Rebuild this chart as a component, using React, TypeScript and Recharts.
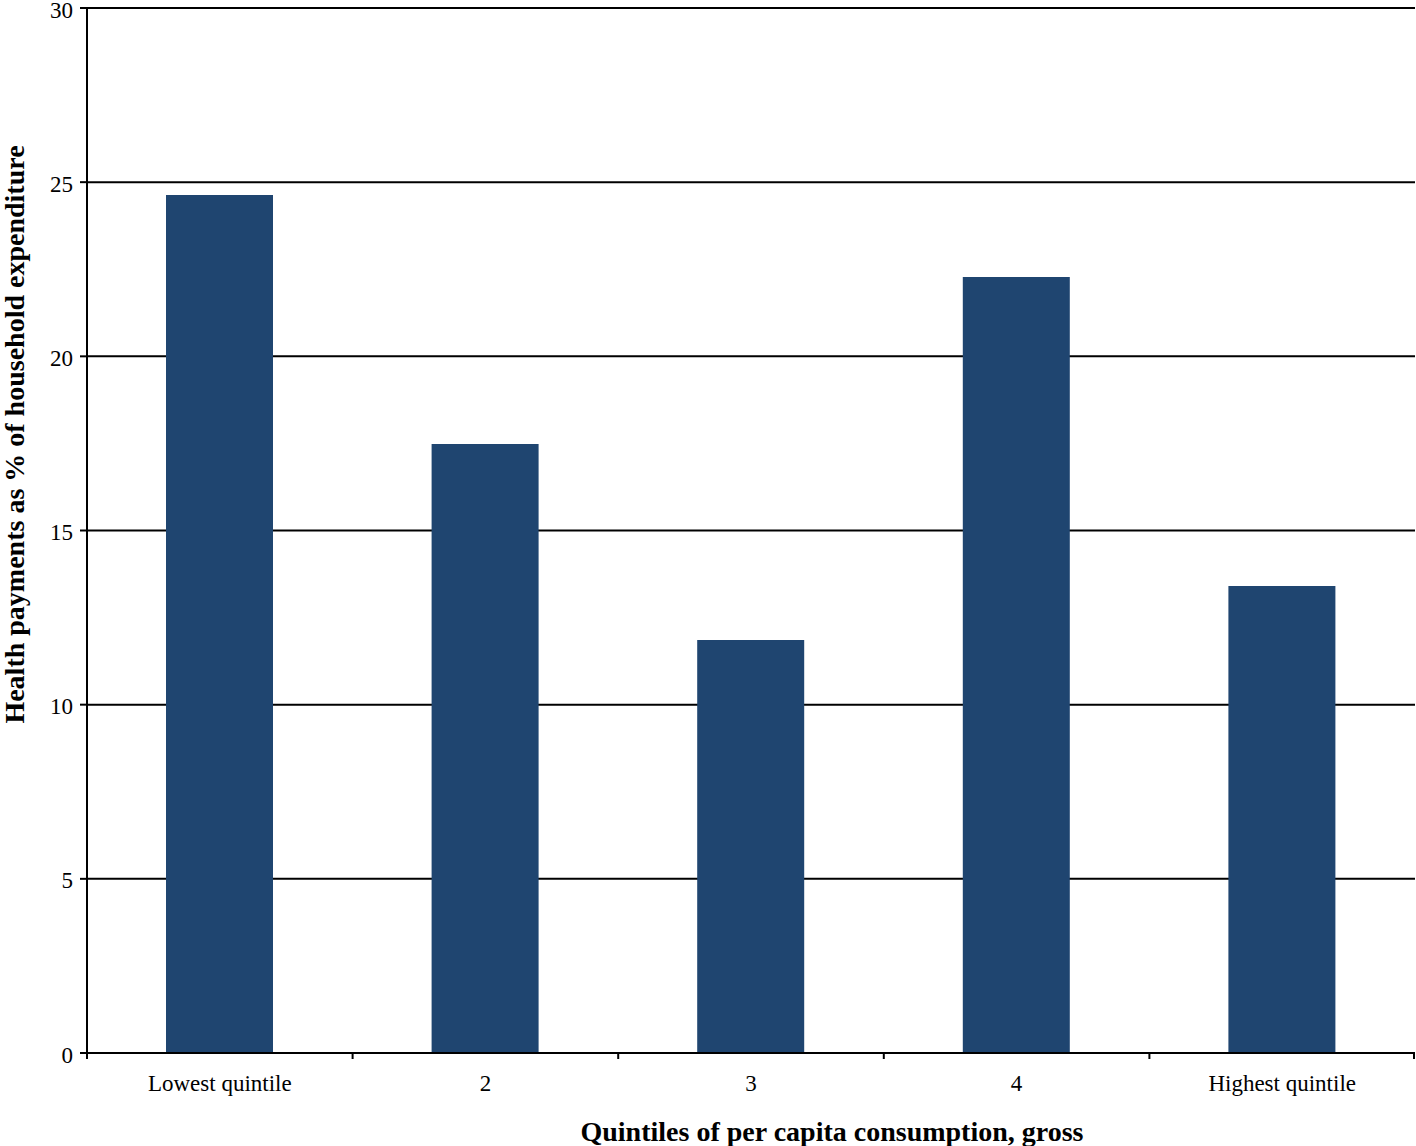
import React from 'react';
import { BarChart, Bar, XAxis, YAxis, CartesianGrid, Label } from 'recharts';

const quintiles = ['Lowest quintile', '2', '3', '4', 'Highest quintile'];
const healthShare = [24.63, 17.48, 11.86, 22.28, 13.41];
const yTicks = [0, 5, 10, 15, 20, 25, 30];

const data = quintiles.map((q, i) => ({ name: q, value: healthShare[i] }));

const W = 1416;
const H = 1146;
const margin = { top: 8, right: 1, bottom: 0, left: 0 };
const yAxisWidth = 87;
const xAxisHeight = 93;
const plotWidth = W - margin.left - margin.right - yAxisWidth;
const band = plotWidth / quintiles.length;

const font = '"Liberation Serif", "Times New Roman", serif';

// category label in the middle, tick marks on the band edges
const QuintileTick = (props: any) => {
    const { x, y, payload, index } = props;
    const left = x - band / 2;
    const right = x + band / 2;
    return (
        <g>
            <line x1={left} y1={y} x2={left} y2={y + 6} stroke="#000" strokeWidth={2} />
            {index === quintiles.length - 1 && (
                <line x1={right - 1} y1={y} x2={right - 1} y2={y + 6} stroke="#000" strokeWidth={2} />
            )}
            <text x={x} y={y + 30} textAnchor="middle" dominantBaseline="central" fontSize={23} fontFamily={font} fill="#000">
                {payload.value}
            </text>
        </g>
    );
};

const ValueTick = (props: any) => {
    const { x, y, payload } = props;
    return (
        <text x={x} y={y + 2} textAnchor="end" dominantBaseline="central" fontSize={23} fontFamily={font} fill="#000">
            {payload.value}
        </text>
    );
};

const YTitle = (props: any) => {
    const { viewBox } = props;
    const cx = 14;
    const cy = viewBox.y + viewBox.height / 2 - 96;
    return (
        <text x={cx} y={cy} transform={`rotate(-90, ${cx}, ${cy})`} textAnchor="middle" dominantBaseline="central"
            fontSize={28} fontWeight="bold" fontFamily={font} fill="#000">
            Health payments as % of household expenditure
        </text>
    );
};

const XTitle = (props: any) => {
    const { viewBox } = props;
    const cx = viewBox.x + viewBox.width / 2 + 81;
    return (
        <text x={cx} y={1131} textAnchor="middle" dominantBaseline="central"
            fontSize={28} fontWeight="bold" fontFamily={font} fill="#000">
            Quintiles of per capita consumption, gross
        </text>
    );
};

const App = () => {
    return (
        <div style={{ position: 'absolute', left: 0, top: 0, width: W, height: H, background: '#fff' }}>
            <BarChart width={W} height={H} data={data} margin={margin} barSize={107}>
                <CartesianGrid horizontal vertical={false} stroke="#000" strokeWidth={2} />
                <XAxis
                    dataKey="name"
                    axisLine={{ stroke: '#000', strokeWidth: 2 }}
                    tickLine={false}
                    tickSize={0}
                    tickMargin={0}
                    tick={<QuintileTick />}
                    interval={0}
                    height={xAxisHeight}
                >
                    <Label content={<XTitle />} />
                </XAxis>
                <YAxis
                    width={yAxisWidth}
                    domain={[0, 30]}
                    ticks={yTicks}
                    interval={0}
                    axisLine={{ stroke: '#000', strokeWidth: 2 }}
                    tickLine={{ stroke: '#000', strokeWidth: 2 }}
                    tickSize={7}
                    tickMargin={7}
                    tick={<ValueTick />}
                >
                    <Label content={<YTitle />} />
                </YAxis>
                <Bar dataKey="value" fill="#1f4570" isAnimationActive={false} />
            </BarChart>
        </div>
    );
};

export default App;
